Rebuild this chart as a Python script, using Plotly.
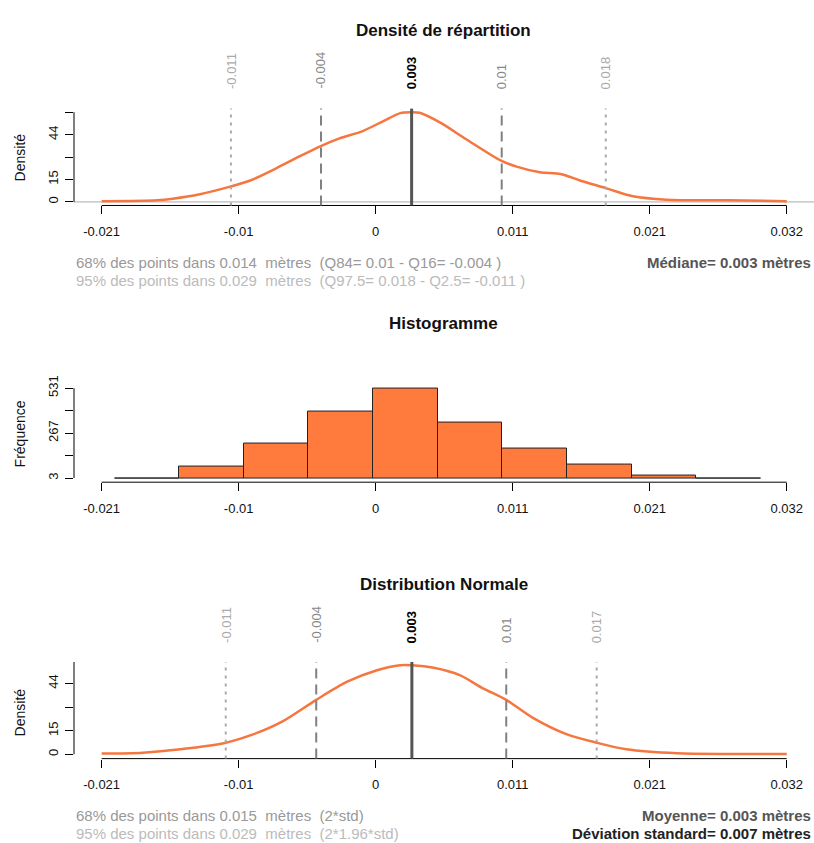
import plotly.graph_objects as go

# ---------------- data ----------------
x_tick_vals = [-0.021, -0.0104, 0.0002, 0.0108, 0.0214, 0.032]
x_tick_text = ["-0.021", "-0.01", "0", "0.011", "0.021", "0.032"]

# density (kernel) curve
dens_x = [-0.0210, -0.0167, -0.0155, -0.0134, -0.0110, -0.0095, -0.0075, -0.0057, -0.0040,
          -0.0026, -0.0008, 0.0008, 0.0021, 0.0029, 0.0036, 0.0052, 0.0072, 0.0099, 0.0111,
          0.0129, 0.0145, 0.0160, 0.0180, 0.0201, 0.0227, 0.0274, 0.0320]
dens_y = [0.5, 1.1, 2.1, 5.0, 10.2, 14.1, 22.1, 29.9, 36.9,
          41.8, 46.6, 53.2, 58.4, 59.0, 58.6, 52.1, 41.2, 27.1, 23.2,
          19.5, 18.4, 14.1, 9.1, 3.7, 1.5, 1.1, 0.5]
dens_ytick_vals = [0, 14.75, 29.5, 44.25, 59]
dens_ytick_text = ["0", "15", "", "44", ""]

# quantile lines (top panel)
q_vals = [-0.011, -0.00403, 0.00298, 0.00995, 0.0180]
q_text = ["-0.011", "-0.004", "0.003", "0.01", "0.018"]

# histogram
hist_centers = [-0.0175, -0.0125, -0.0075, -0.0025, 0.0025, 0.0075, 0.0125, 0.0175, 0.0225, 0.0275]
hist_counts = [3, 69, 205, 391, 531, 327, 176, 85, 16, 3]
hist_bin_width = 0.005
hist_ytick_vals = [3, 135, 267, 399, 531]
hist_ytick_text = ["3", "", "267", "", "531"]

# normal distribution curve
norm_x = [-0.0210, -0.0178, -0.0149, -0.0114, -0.0093, -0.0070, -0.0044, -0.0020, 0.0003,
          0.0021, 0.0030, 0.0047, 0.0067, 0.0085, 0.0103, 0.0124, 0.0150, 0.0173, 0.0196,
          0.0235, 0.0279, 0.0320]
norm_y = [0.4, 1.0, 3.1, 7.2, 12.4, 20.6, 34.0, 45.3, 52.5,
          55.6, 55.6, 54.0, 49.4, 41.2, 34.0, 22.6, 12.4, 7.2, 3.1,
          0.6, 0.2, 0.1]
norm_ytick_vals = [0, 14.75, 29.5, 44.25]
norm_ytick_text = ["0", "15", "", "44"]

n_vals = [-0.0114, -0.0044, 0.0030, 0.0103, 0.0173]
n_text = ["-0.011", "-0.004", "0.003", "0.01", "0.017"]

# ---------------- styling ----------------
FONT = "Liberation Sans, Arial, sans-serif"
ORANGE_LINE = "#F5763E"
ORANGE_FILL = "#FF7A3D"
W, H = 814, 843


def py(px):
    return 1 - px / H


def pxx(px):
    return px / W


x_dom = [pxx(74), 1.0]
x_range = [-0.02314, 0.03411]

panels = {
    "1": dict(dom=[py(198.6), py(100.7)], rng=[-2.34, 61.34]),
    "2": dict(dom=[py(478.3), py(379.6)], rng=[-21.2, 552.2]),
    "3": dict(dom=[py(757.7), py(660.0)], rng=[-2.72, 57.66]),
}

fig = go.Figure()

fig.add_trace(go.Scatter(x=dens_x, y=dens_y, mode="lines", line=dict(color=ORANGE_LINE, width=2.5, shape="spline", smoothing=0.8),
                         xaxis="x", yaxis="y", showlegend=False, hoverinfo="skip"))
fig.add_trace(go.Bar(x=hist_centers, y=hist_counts, width=hist_bin_width,
                     marker=dict(color=ORANGE_FILL, line=dict(color="#222222", width=1)),
                     xaxis="x2", yaxis="y2", showlegend=False, hoverinfo="skip"))
fig.add_trace(go.Scatter(x=norm_x, y=norm_y, mode="lines", line=dict(color=ORANGE_LINE, width=2.5, shape="spline", smoothing=0.8),
                         xaxis="x3", yaxis="y3", showlegend=False, hoverinfo="skip"))

layout = dict(width=W, height=H, margin=dict(l=0, r=0, t=0, b=0),
              paper_bgcolor="white", plot_bgcolor="white",
              font=dict(family=FONT, size=13, color="#000000"), bargap=0)

ytick_info = {"1": (dens_ytick_vals, dens_ytick_text), "2": (hist_ytick_vals, hist_ytick_text),
              "3": (norm_ytick_vals, norm_ytick_text)}

for k, p in panels.items():
    sfx = "" if k == "1" else k
    layout["xaxis" + sfx] = dict(domain=x_dom, range=x_range, anchor="y" + sfx, showgrid=False, zeroline=False,
                                 showline=False, tickmode="array", tickvals=x_tick_vals, ticktext=x_tick_text,
                                 ticks="outside", ticklen=8, tickwidth=1, tickcolor="black",
                                 tickfont=dict(size=13, color="#111111"), ticklabelstandoff=6)
    tv, tt = ytick_info[k]
    layout["yaxis" + sfx] = dict(domain=p["dom"], range=p["rng"], anchor="x" + sfx, showgrid=False, zeroline=False,
                                 showline=False, tickmode="array", tickvals=tv, ticktext=tt,
                                 ticks="outside", ticklen=8, tickwidth=1, tickcolor="black", tickangle=-90,
                                 tickfont=dict(size=13, color="#111111"), ticklabelstandoff=2)

shapes = []
# axis lines
for k in ["1", "2", "3"]:
    sfx = "" if k == "1" else k
    shapes.append(dict(type="line", xref="x" + sfx, yref="y" + sfx + " domain", x0=x_tick_vals[0], x1=x_tick_vals[-1],
                       y0=0, y1=0, line=dict(color="black", width=1)))
    tv = ytick_info[k][0]
    top = tv[-1] if k != "3" else panels["3"]["rng"][1]
    shapes.append(dict(type="line", xref="x" + sfx + " domain", yref="y" + sfx, x0=0, x1=0,
                       y0=tv[0], y1=top, line=dict(color="black", width=1)))

# gray zero line in top panel
shapes.append(dict(type="line", xref="x domain", yref="y", x0=0, x1=1, y0=0, y1=0,
                   line=dict(color="#AAAAAA", width=1), layer="below"))

line_styles = [dict(color="#AAAAAA", width=2, dash="3px,5px"),
               dict(color="#808080", width=2, dash="10px,6px"),
               dict(color="#555555", width=3),
               dict(color="#808080", width=2, dash="10px,6px"),
               dict(color="#AAAAAA", width=2, dash="3px,5px")]
label_styles = [dict(color="#AAAAAA", size=13), dict(color="#888888", size=13),
                dict(color="#000000", size=13), dict(color="#888888", size=13),
                dict(color="#AAAAAA", size=13)]

annotations = []
for vals, texts, sfx, ybot in [(q_vals, q_text, "", 83), (n_vals, n_text, "3", 643)]:
    for v, t, ls, lab in zip(vals, texts, line_styles, label_styles):
        shapes.append(dict(type="line", xref="x" + sfx, yref="y" + sfx + " domain", x0=v, x1=v, y0=0, y1=1,
                           line=ls))
        txt = "<b>%s</b>" % t if lab["color"] == "#000000" else t
        annotations.append(dict(x=v, xref="x" + sfx, y=py(ybot), yref="paper", text=txt, textangle=-90,
                                showarrow=False, xanchor="center", yanchor="bottom",
                                font=dict(family=FONT, size=lab["size"], color=lab["color"])))

# titles
for t, ypx in [("Densité de répartition", 21.7), ("Histogramme", 318), ("Distribution Normale", 581.7)]:
    annotations.append(dict(x=pxx(444), y=py(ypx), xref="paper", yref="paper", text="<b>%s</b>" % t,
                            showarrow=False, xanchor="center", yanchor="middle",
                            font=dict(family=FONT, size=17, color="#111111")))

# y-axis titles
for t, ypx in [("Densité", 150), ("Fréquence", 430), ("Densité", 711)]:
    annotations.append(dict(x=pxx(20), y=py(ypx), xref="paper", yref="paper", text=t, textangle=-90,
                            showarrow=False, xanchor="center", yanchor="middle",
                            font=dict(family=FONT, size=14, color="#111111")))

NB = "\u00a0"
STAT_SIZE = 15
stats = [
    ("68% des points dans 0.014" + NB * 2 + "mètres" + NB * 2 + "(Q84= 0.01 - Q16= -0.004 )", 75, 256.5, "left", "#999999", False),
    ("95% des points dans 0.029" + NB * 2 + "mètres" + NB * 2 + "(Q97.5= 0.018 - Q2.5= -0.011 )", 75, 274.5, "left", "#BBBBBB", False),
    ("Médiane= 0.003 mètres", 812, 256.5, "right", "#555555", True),
    ("68% des points dans 0.015" + NB * 2 + "mètres" + NB * 2 + "(2*std)", 75, 815, "left", "#999999", False),
    ("95% des points dans 0.029" + NB * 2 + "mètres" + NB * 2 + "(2*1.96*std)", 75, 833, "left", "#BBBBBB", False),
    ("Moyenne= 0.003 mètres", 812, 815, "right", "#555555", True),
    ("Déviation standard= 0.007 mètres", 812, 833, "right", "#222222", True),
]
for t, xp, yp, anc, col, bold in stats:
    annotations.append(dict(x=pxx(xp), y=py(yp), xref="paper", yref="paper",
                            text=("<b>%s</b>" % t) if bold else t, showarrow=False, borderpad=0,
                            xanchor=anc, yanchor="middle", font=dict(family=FONT, size=STAT_SIZE, color=col)))

layout["shapes"] = shapes
layout["annotations"] = annotations
fig.update_layout(**layout)
fig.write_html("out.html")
